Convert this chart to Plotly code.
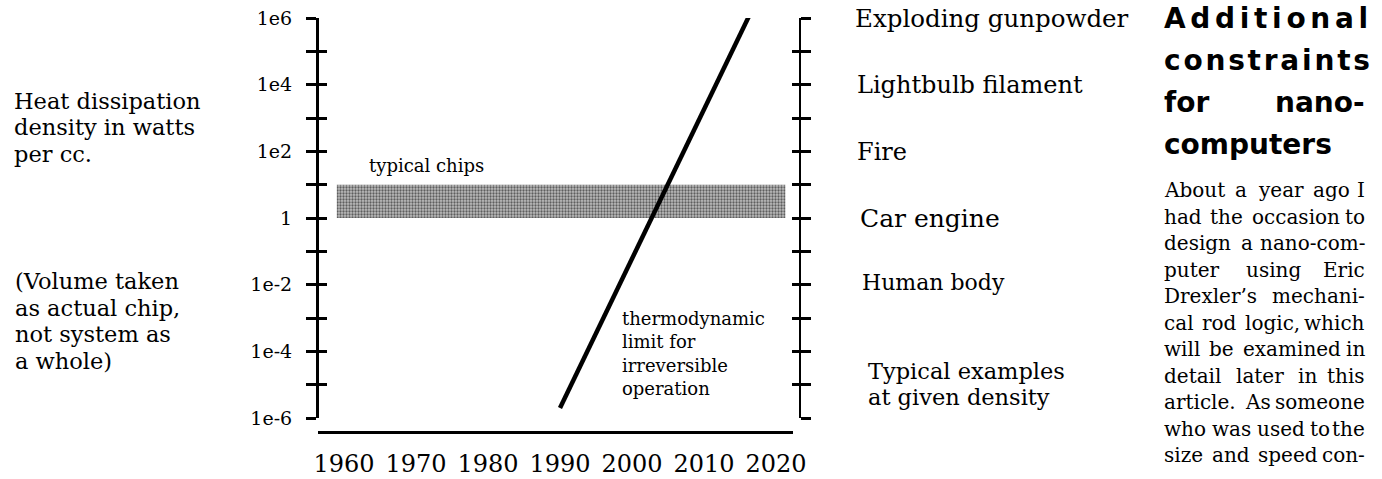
import plotly.graph_objects as go

# ---------------- data ----------------
limit_years = [1990.0, 2016.3]          # thermodynamic limit line
limit_watts = [2e-6, 1.2e6]
chip_years = [1959.0, 2021.3]           # typical chips band
chip_watts = [1, 10]
x_tick_vals = [1960, 1970, 1980, 1990, 2000, 2010, 2020]
x_tick_text = ["1960", "1970", "1980", "1990", "2000", "2010", "2020"]
y_tick_vals = [1e-6, 1e-5, 1e-4, 1e-3, 1e-2, 1e-1, 1, 1e1, 1e2, 1e3, 1e4, 1e5, 1e6]
y_tick_text = ["1e-6", "", "1e-4", "", "1e-2", "", "1", "", "1e2", "", "1e4", "", "1e6"]
example_labels = ["Exploding gunpowder", "Lightbulb filament", "Fire", "Car engine", "Human body"]
left_labels_a = ["Heat dissipation", "density in watts", "per cc."]
left_labels_b = ["(Volume taken", "as actual chip,", "not system as", "a whole)"]
limit_label = ["thermodynamic", "limit for", "irreversible", "operation"]
examples_caption = ["Typical examples", "at given density"]
heading_lines = ["Additional", "constraints", "for nano-", "computers"]
body_lines = ["About a year ago I", "had the occasion to", "design a nano-com-",
              "puter using Eric", "Drexler\u2019s mechani-", "cal rod logic, which",
              "will be examined in", "detail later in this", "article. As someone",
              "who was used to the", "size and speed con-"]

# ---------------- layout geometry (pixels) ----------------
W, H = 1382, 479
L, R, T, B = 317, 800, 18, 432


def px(x):
    return (x - L) / (R - L)


def py(y):
    return (B - y) / (B - T)


SERIF = "DejaVu Serif"

fig = go.Figure()
fig.add_trace(go.Scatter(
    x=[chip_years[0], chip_years[1], chip_years[1], chip_years[0], chip_years[0]],
    y=[chip_watts[0], chip_watts[0], chip_watts[1], chip_watts[1], chip_watts[0]],
    mode="lines", fill="toself", line=dict(width=0, color="rgba(0,0,0,0)"),
    fillpattern=dict(shape=".", fgcolor="black", bgcolor="#bdbdbd", size=3, solidity=0.45),
    hoverinfo="skip"))
fig.add_trace(go.Scatter(x=limit_years, y=limit_watts, mode="lines",
                         line=dict(color="black", width=4.5), hoverinfo="skip"))
# invisible companions so the overlaid tick axes are drawn
for ax in ["y2", "y3", "y4"]:
    fig.add_trace(go.Scatter(x=limit_years, y=limit_watts, yaxis=ax, mode="lines",
                             line=dict(width=0, color="rgba(0,0,0,0)"), hoverinfo="skip"))

yaxis_common = dict(type="log", range=[-6, 6], domain=[py(418), 1], anchor="free",
                    tickvals=y_tick_vals, showgrid=False, zeroline=False,
                    tickcolor="black")

fig.update_layout(
    width=W, height=H,
    margin=dict(l=L, r=W - R, t=T, b=H - B, pad=0, autoexpand=False),
    paper_bgcolor="white", plot_bgcolor="white", showlegend=False,
    xaxis=dict(domain=[px(318), px(793)], range=[1956.39, 2022.36], anchor="free", position=0,
               showline=True, linecolor="black", linewidth=3, ticks="",
               tickvals=x_tick_vals, ticktext=x_tick_text, ticklabelstandoff=9,
               tickfont=dict(family=SERIF, size=24, color="black"),
               showgrid=False, zeroline=False),
    yaxis=dict(**yaxis_common, position=0, side="left", showline=True, linecolor="black",
               linewidth=3, ticks="outside", ticklen=10, tickwidth=3,
               ticktext=y_tick_text, ticklabelstandoff=10,
               tickfont=dict(family=SERIF, size=19, color="black")),
    yaxis3=dict(**yaxis_common, position=0, side="left", overlaying="y", showline=False,
                ticks="inside", ticklen=9, tickwidth=3, showticklabels=False),
    yaxis2=dict(**yaxis_common, position=1, side="right", overlaying="y", showline=True,
                linecolor="black", linewidth=2, ticks="outside", ticklen=10, tickwidth=2.5,
                showticklabels=False),
    yaxis4=dict(**yaxis_common, position=1, side="right", overlaying="y", showline=False,
                ticks="inside", ticklen=8, tickwidth=2.5, showticklabels=False),
)

anns = []


def ann(text, x, y, size, family=SERIF, xanchor="left"):
    anns.append(dict(text=text, x=px(x), y=py(y), xref="paper", yref="paper",
                     xanchor=xanchor, yanchor="middle", showarrow=False,
                     font=dict(family=family, size=size, color="black")))


# left notes
for t, y in zip(left_labels_a, [101, 127.5, 154]):
    ann(t, 12, y, 22.5)
for t, y in zip(left_labels_b, [281, 307.5, 334, 360.5]):
    ann(t, 13, y, 22.5)

# band / line labels
ann("typical chips", 426, 165, 18, xanchor="center")
for t, y in zip(limit_label, [318, 341.5, 365, 388.5]):
    ann(t, 620, y, 18)

# examples column
for t, (x, y, s) in zip(example_labels, [(853, 18, 24.5), (855, 85, 24), (855, 152, 24),
                                          (858, 218, 25), (860, 282, 22)]):
    ann(t, x, y, s)
for t, y in zip(examples_caption, [371, 397]):
    ann(t, 866, y, 22.5)

# heading
HX0, HX1 = 1162, 1367
HEAD = "DejaVu Sans"
HY = [18, 60, 102, 144]
ann("<b>" + "\u2006".join(heading_lines[0]) + "</b>", HX0, HY[0], 28, HEAD)
ann("<b>" + "\u200a".join(heading_lines[1]) + "</b>", HX0, HY[1], 28, HEAD)
w_for, w_nano = heading_lines[2].split(" ")
ann("<b>" + w_for + "</b>", HX0, HY[2], 28, HEAD)
ann("<b>" + w_nano + "</b>", HX1, HY[2], 28, HEAD, xanchor="right")
ann("<b>" + heading_lines[3] + "</b>", HX0, HY[3], 28, HEAD)

# justified body text (approximate DejaVu Serif advance widths, em/1000)
TW = {' ': 318, 'a': 596, 'b': 640, 'c': 560, 'd': 640, 'e': 592, 'f': 370, 'g': 640,
      'h': 644, 'i': 320, 'j': 310, 'k': 606, 'l': 320, 'm': 948, 'n': 644, 'o': 602,
      'p': 640, 'q': 640, 'r': 478, 's': 513, 't': 402, 'u': 644, 'v': 565, 'w': 856,
      'x': 564, 'y': 565, 'z': 527, 'A': 722, 'D': 830, 'E': 730, 'I': 404, ',': 318,
      '.': 318, '-': 338, '\u2019': 318}
BS = 20


def wwidth(w):
    return sum(TW.get(c, 600) for c in w) / 1000 * BS


for i, line in enumerate(body_lines):
    y = 190 + 26.5 * i
    words = line.split(" ")
    widths = [wwidth(w) for w in words]
    gap = (HX1 - HX0 - sum(widths)) / max(len(words) - 1, 1)
    x = HX0
    for j, w in enumerate(words):
        if j == len(words) - 1 and len(words) > 1:
            ann(w, HX1, y, BS, xanchor="right")
        else:
            ann(w, x, y, BS)
        x += widths[j] + gap

fig.update_layout(annotations=anns)
fig.write_html("out.html", config={"displayModeBar": False},
               post_script="document.body.style.margin='0';document.body.style.overflow='hidden';")
